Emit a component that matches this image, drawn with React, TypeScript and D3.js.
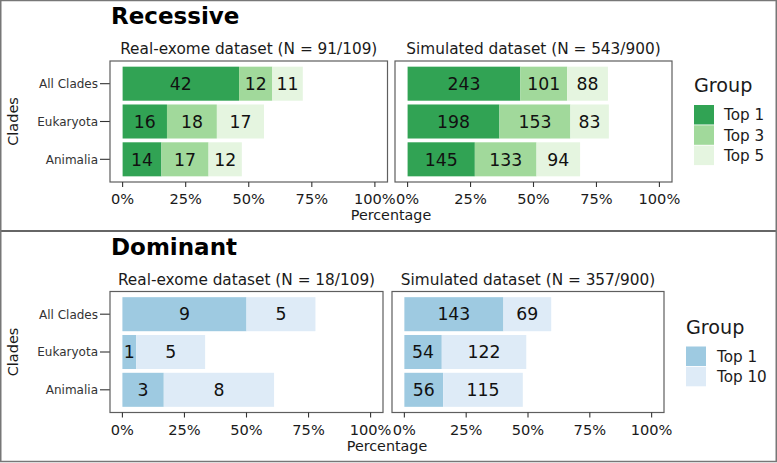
import React from 'react'
import * as d3 from 'd3'

// clade rows, top to bottom
const clades = ['All Clades', 'Eukaryota', 'Animalia']

const recessiveGroups = ['Top 1', 'Top 3', 'Top 5']
const recessiveColors = ['#31a354', '#a1d99b', '#e5f5e0']
const recessiveReal = [[42, 12, 11], [16, 18, 17], [14, 17, 12]]
const recessiveSim = [[243, 101, 88], [198, 153, 83], [145, 133, 94]]

const dominantGroups = ['Top 1', 'Top 10']
const dominantColors = ['#9ecae1', '#deebf7']
const dominantReal = [[9, 5], [1, 5], [3, 8]]
const dominantSim = [[143, 69], [54, 122], [56, 115]]

const tickValues = [0, 25, 50, 75, 100]

const FONT = 'DejaVu Sans, sans-serif'

interface PanelSpec {
  title: string
  counts: number[][]
  n: number
  x0: number
  x1: number
}

interface SectionProps {
  top: number
  title: string
  groups: string[]
  colors: string[]
  panels: PanelSpec[]
  legendX: number
  legendY: number
  keyGap: number
}

function Panel({ spec, colors }: { spec: PanelSpec; colors: string[] }) {
  const y0 = 61
  const y1 = 182
  const w = spec.x1 - spec.x0
  const pad = (w * 0.05) / 1.1
  const x = d3.scaleLinear().domain([0, 100]).range([spec.x0 + pad, spec.x1 - pad])
  const y = d3.scaleBand().domain(clades).range([y0, y1]).paddingInner(0.1).paddingOuter(0.15)

  return (
    <g>
      <text x={(spec.x0 + spec.x1) / 2} y={54} textAnchor="middle" fontSize={15.3} fill="#1a1a1a">
        {spec.title}
      </text>
      <rect x={spec.x0} y={y0} width={w} height={y1 - y0} fill="#fff" />
      {spec.counts.map((row, ri) => {
        const stacked = d3.cumsum(row.map(v => (v / spec.n) * 100))
        return row.map((v, gi) => {
          const a = gi === 0 ? 0 : stacked[gi - 1]
          const b = stacked[gi]
          const by = y(clades[ri]) as number
          return (
            <g key={`${ri}-${gi}`}>
              <rect x={x(a)} y={by} width={x(b) - x(a)} height={y.bandwidth()} fill={colors[gi]} />
              <text
                x={(x(a) + x(b)) / 2}
                y={by + y.bandwidth() / 2}
                dy="0.36em"
                textAnchor="middle"
                fontSize={17.3}
                fill="#111"
              >
                {v}
              </text>
            </g>
          )
        })
      })}
      <rect x={spec.x0} y={y0} width={w} height={y1 - y0} fill="none" stroke="#5e5e5e" strokeWidth={1.2} />
      {tickValues.map(t => (
        <g key={t}>
          <line x1={x(t)} x2={x(t)} y1={y1} y2={y1 + 5} stroke="#333" strokeWidth={1.1} />
          <text x={x(t)} y={204} textAnchor="middle" fontSize={14.6} fill="#1a1a1a">
            {t + '%'}
          </text>
        </g>
      ))}
    </g>
  )
}

function Section({ top, title, groups, colors, panels, legendX, legendY, keyGap }: SectionProps) {
  const first = panels[0]
  const last = panels[panels.length - 1]
  const y = d3.scaleBand().domain(clades).range([61, 182]).paddingInner(0.1).paddingOuter(0.15)
  return (
    <g transform={`translate(0,${top})`}>
      <text x={111} y={24} fontSize={23} fontWeight="bold" fill="#000">
        {title}
      </text>
      {clades.map(c => {
        const cy = (y(c) as number) + y.bandwidth() / 2
        return (
          <g key={c}>
            <line x1={first.x0 - 10} x2={first.x0} y1={cy} y2={cy} stroke="#333" strokeWidth={1.1} />
            <text x={first.x0 - 12} y={cy} dy="0.36em" textAnchor="end" fontSize={12} fill="#333">
              {c}
            </text>
          </g>
        )
      })}
      <text
        transform={`translate(17.5,121.5) rotate(-90)`}
        textAnchor="middle"
        fontSize={14.5}
        fill="#1a1a1a"
      >
        Clades
      </text>
      {panels.map(p => (
        <Panel key={p.title} spec={p} colors={colors} />
      ))}
      <text x={(first.x0 + last.x1) / 2} y={220} textAnchor="middle" fontSize={14.3} fill="#1a1a1a">
        Percentage
      </text>
      {/* legend */}
      <text x={legendX} y={legendY} fontSize={19.2} fill="#1a1a1a">
        Group
      </text>
      {groups.map((g, i) => (
        <g key={g}>
          <rect x={legendX} y={legendY + 13 + i * 20.3} width={20} height={19.5} fill={colors[i]} />
          <text x={legendX + 20 + keyGap} y={legendY + 13 + i * 20.3 + 10} dy="0.36em" fontSize={15.2} fill="#1a1a1a">
            {g}
          </text>
        </g>
      ))}
    </g>
  )
}

export default function App() {
  return (
    <svg
      width={777}
      height={463}
      style={{ position: 'absolute', left: 0, top: 0, fontFamily: FONT, background: '#fff' }}
    >
      <rect x={0} y={0} width={777} height={463} fill="#fff" />
      <Section
        top={0}
        title="Recessive"
        groups={recessiveGroups}
        colors={recessiveColors}
        legendX={694}
        legendY={92}
        keyGap={10}
        panels={[
          { title: 'Real-exome dataset (N = 91/109)', counts: recessiveReal, n: 91, x0: 110, x1: 387.5 },
          { title: 'Simulated dataset (N = 543/900)', counts: recessiveSim, n: 543, x0: 395, x1: 672 },
        ]}
      />
      <Section
        top={230.5}
        title="Dominant"
        groups={dominantGroups}
        colors={dominantColors}
        legendX={686}
        legendY={103}
        keyGap={11}
        panels={[
          { title: 'Real-exome dataset (N = 18/109)', counts: dominantReal, n: 18, x0: 110, x1: 383 },
          { title: 'Simulated dataset (N = 357/900)', counts: dominantSim, n: 357, x0: 392, x1: 664 },
        ]}
      />
      <line x1={0} x2={777} y1={231} y2={231} stroke="#333" strokeWidth={1.6} />
      <rect x={0.75} y={0.5} width={775.5} height={461} fill="none" stroke="#777" strokeWidth={1.5} />
    </svg>
  )
}
